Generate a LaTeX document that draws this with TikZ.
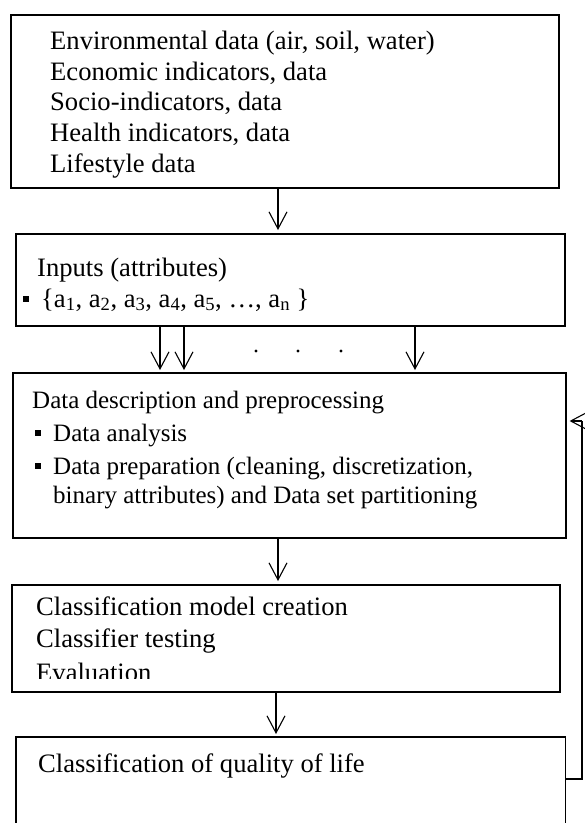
\documentclass[tikz,border=0pt]{standalone}
\usepackage{fontspec}
\setmainfont{Liberation Serif}
\usetikzlibrary{arrows.meta}
\newcommand{\sqbul}{\raisebox{5.5pt}{\rule{6pt}{6pt}}}
\begin{document}
\begin{tikzpicture}[x=1pt,y=-1pt,
  box/.style={draw,line width=1.6pt,inner sep=0pt,anchor=north west},
  txt/.style={anchor=base west,inner sep=0pt,font=\fontsize{26.6}{30.6}\selectfont},
  stxt/.style={anchor=base west,inner sep=0pt,font=\fontsize{25}{29}\selectfont},
  arr/.style={line width=1.1pt,-{Straight Barb[length=17pt,width=18pt,line width=1.1pt]}}]
\useasboundingbox[fill=white] (0,0) rectangle (585,823);
% boxes
\node[box,minimum width=548pt,minimum height=173pt] (b1) at (10,14) {};
\node[box,minimum width=549pt,minimum height=92pt] (b2) at (15,233) {};
\node[box,minimum width=553pt,minimum height=165pt] (b3) at (12,372) {};
\node[box,minimum width=548pt,minimum height=107pt] (b4) at (11,584) {};
\node[inner sep=0pt,anchor=north west,minimum width=549pt,minimum height=120pt] (b5) at (16,737) {};
\draw[line width=1.6pt] (b5.south west) -- (b5.north west) -- (b5.north east) -- (b5.south east);
% box 1 text
\node[txt] (t11) at (50,49) {Environmental data (air, soil, water)};
\node[txt] (t12) at (50,80) {Economic indicators, data};
\node[txt] (t13) at (50,110) {Socio-indicators, data};
\node[txt] (t14) at (50,141) {Health indicators, data};
\node[txt] (t15) at (50,172) {Lifestyle data};
% box 2 text
\node[txt] (t21) at (37,276) {Inputs (attributes)};
\node[txt] (t22b) at (23,307) {\sqbul};
\node[txt] (t22) at (41,307) {\{a\textsubscript{1}, a\textsubscript{2}, a\textsubscript{3}, a\textsubscript{4}, a\textsubscript{5}, …, a\textsubscript{n} \}};
% box 3 text
\node[stxt] (t31) at (32,408) {Data description and preprocessing};
\node[stxt] (t32b) at (35,441) {\sqbul};
\node[stxt] (t32) at (53,441) {Data analysis};
\node[stxt] (t33b) at (35,474) {\sqbul};
\node[stxt] (t33) at (53,474) {Data preparation (cleaning, discretization,};
\node[stxt] (t34) at (53,503) {binary attributes) and Data set partitioning};
% box 4 text
\node[txt] (t41) at (36,615) {Classification model creation};
\node[txt] (t42) at (36,647) {Classifier testing};
\begin{scope}
\clip (0,600) rectangle (585,678.5);
\node[txt] (t43) at (36,681) {Evaluation};
\end{scope}
% box 5 text
\node[txt] (t51) at (38,772) {Classification of quality of life};
% connector x positions
\coordinate (xa) at (278,0);
\coordinate (xb) at (160,0);
\coordinate (xc) at (184,0);
\coordinate (xd) at (415,0);
\coordinate (xe) at (276,0);
\coordinate (fr) at (582,0);
\coordinate (fy) at (0,421);
\coordinate (fy2) at (0,779);
\draw[arr] (b1.south -| xa) -- ([yshift=3pt]b2.north -| xa);
\draw[arr] (b2.south -| xb) -- ([yshift=2pt]b3.north -| xb);
\draw[arr] (b2.south -| xc) -- ([yshift=2pt]b3.north -| xc);
\draw[arr] (b2.south -| xd) -- ([yshift=2pt]b3.north -| xd);
\fill (256,351) circle (1.7) (298,351) circle (1.7) (341,351) circle (1.7);
\draw[arr] (b3.south -| xa) -- ([yshift=3pt]b4.north -| xa);
\draw[arr] (b4.south -| xe) -- ([yshift=3pt]b5.north -| xe);
% feedback
\draw[line width=1.1pt] (b5.east |- fy2) -- (fr |- fy2) -- (fr |- fy);
\draw[arr] (fr |- fy) -- ([xshift=3pt]b3.east |- fy);
\end{tikzpicture}
\end{document}
